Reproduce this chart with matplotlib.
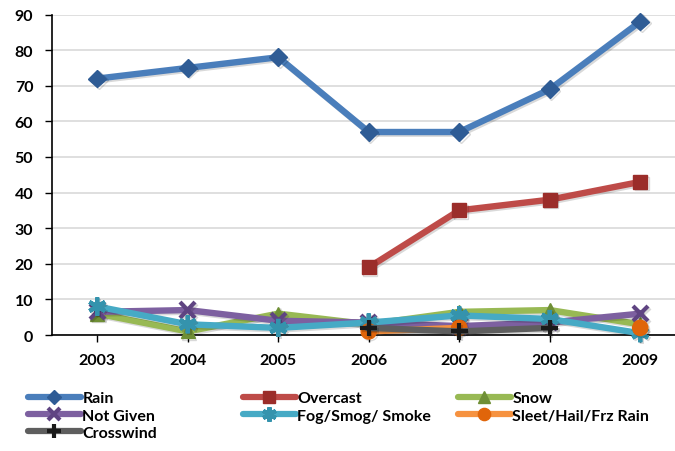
import numpy as np
import matplotlib
matplotlib.use("Agg")
import matplotlib.pyplot as plt
import matplotlib.patheffects as pe
from matplotlib.lines import Line2D

years = ["2003", "2004", "2005", "2006", "2007", "2008", "2009"]

rain = [72, 75, 78, 57, 57, 69, 88]
overcast = [np.nan, np.nan, np.nan, 19, 35, 38, 43]
snow = [6, 1, 6, 3, 6.5, 7, 3]
not_given = [6.5, 7, 4, 3.5, 2.5, 3.5, 6]
fog = [8, 3, 2, 3.5, 5.5, 4.5, 0.5]
sleet = [np.nan, np.nan, np.nan, 1, 2, np.nan, 2]
crosswind = [np.nan, np.nan, np.nan, 2, 1, 2, np.nan]

plt.rcParams['font.family'] = ['Lato', 'DejaVu Sans']
plt.rcParams['font.weight'] = 'bold'

# name, values, line colour, marker, marker face, marker edge, marker size
series = [
    ("Rain", rain, "#4A7EBB", "D", "#2F5C95", "#2F5C95", 9),
    ("Overcast", overcast, "#BE4B48", "s", "#9B2D2A", "#9B2D2A", 10),
    ("Snow", snow, "#98B954", "^", "#6F8F35", "#6F8F35", 10),
    ("Not Given", not_given, "#7D60A0", "x", "#5F4482", "#5F4482", 11),
    ("Fog/Smog/ Smoke", fog, "#46AAC5", (6, 2, 0), "#3493AD", "#3493AD", 13),
    ("Sleet/Hail/Frz Rain", sleet, "#F69240", "o", "#E0650A", "#E0650A", 11),
    ("Crosswind", crosswind, "#5E5E5E", "+", "#1A1A1A", "#1A1A1A", 12),
]

fig = plt.figure(figsize=(6.75, 4.52), dpi=100)
ax = fig.add_axes([52 / 675, 1 - 336 / 452, 1 - 52 / 675, (336 - 15.5) / 452])

x = np.arange(len(years))
shadow = [pe.SimpleLineShadow(offset=(1.2, -1.2), alpha=0.15), pe.Normal()]
handles = {}
for name, vals, color, marker, mfc, mec, ms in series:
    mew = 3 if marker in ("x", "+") or isinstance(marker, tuple) else 1
    line, = ax.plot(x, vals, color=color, lw=4.6, marker=marker, ms=ms,
                    mfc=mfc, mec=mec, mew=mew, solid_joinstyle="round",
                    clip_on=False, path_effects=shadow, zorder=3)
    handles[name] = Line2D([], [], color=color, lw=4.5, marker=marker,
                           ms=ms * 0.8, mfc=mfc, mec=mec, mew=mew,
                           solid_capstyle="round")

ax.set_xlim(-0.5, (675 - 52) / 90.5 - 0.5)
ax.set_ylim(0, 90)
ax.set_yticks(range(0, 91, 10))
ax.set_xticks(x)
ax.set_xticklabels(years)
ax.tick_params(axis="both", labelsize=11.5, direction="out", length=5,
               width=1, colors="black")
ax.tick_params(axis="x", pad=8)
ax.tick_params(axis="y", pad=8.5)
for lbl in ax.get_xticklabels() + ax.get_yticklabels():
    lbl.set_fontweight("bold")

ax.grid(axis="y", color="#D9D9D9", lw=1.2)
ax.set_axisbelow(True)
for side in ("top", "right"):
    ax.spines[side].set_visible(False)
ax.spines["left"].set_linewidth(1.2)
ax.spines["bottom"].set_linewidth(1.2)

# legend laid out as three evenly spaced columns under the plot
columns = [["Rain", "Not Given", "Crosswind"],
           ["Overcast", "Fog/Smog/ Smoke"],
           ["Snow", "Sleet/Hail/Frz Rain"]]
col_x = [28, 243, 458]
for names, px in zip(columns, col_x):
    fig.legend([handles[n] for n in names], names,
               loc="upper left", bbox_to_anchor=(px / 675, 1 - 392 / 452),
               frameon=False, handlelength=3.3, handletextpad=0.1,
               borderaxespad=0, borderpad=0, labelspacing=0.2,
               prop={"size": 11.5, "weight": "bold"})

fig.savefig("out.png", dpi=100)
